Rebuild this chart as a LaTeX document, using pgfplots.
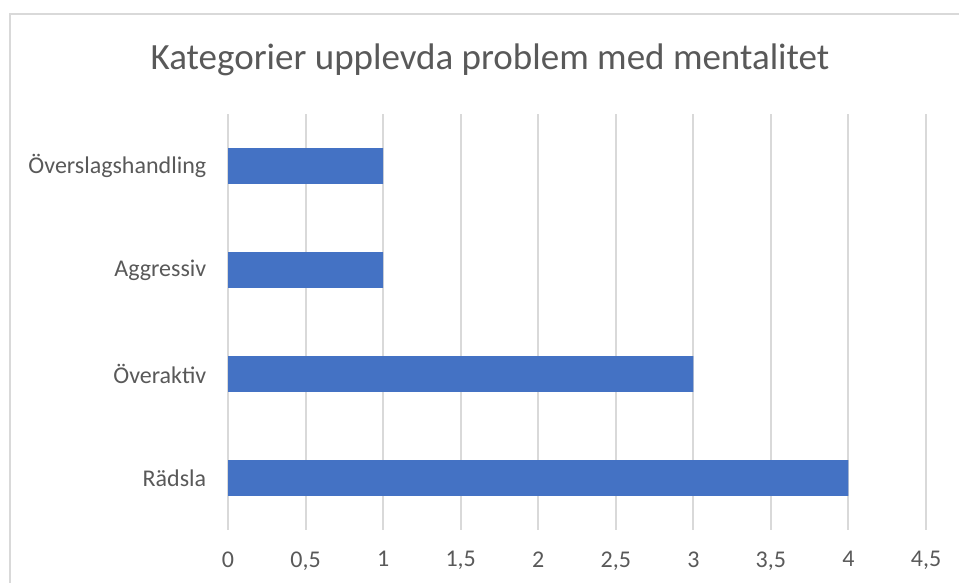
\documentclass[border=0pt]{standalone}
\usepackage{fontspec}
\setmainfont{Carlito}
\usepackage{pgfplots}
\pgfplotsset{compat=1.18}
\definecolor{barblue}{HTML}{4472C4}
\definecolor{gridgray}{HTML}{D9D9D9}
\definecolor{txtgray}{HTML}{595959}
\begin{document}
\begin{tikzpicture}[x=1pt,y=1pt]
\path[use as bounding box] (0,0) rectangle (959,583);
\draw[gridgray, line width=1.8pt] (10,0) -- (10,569) -- (959,569);
\node[anchor=base, text=txtgray, font=\fontsize{37}{40}\selectfont] at (490,513) {Kategorier upplevda problem med mentalitet};
\begin{axis}[
  at={(228pt,53pt)}, anchor=south west,
  scale only axis, width=698pt, height=416pt,
  xbar, bar width=0.346,
  xmin=0, xmax=4.5, ymin=-0.5, ymax=3.5,
  xtick={0,0.5,...,4.5},
  ytick={0,1,2,3},
  yticklabels={Rädsla,Överaktiv,Aggressiv,Överslagshandling},
  xmajorgrids, grid style={gridgray, line width=2pt},
  axis line style={draw=none},
  tick style={draw=none},
  /pgf/number format/assume math mode=true,
  /pgf/number format/use comma,
  ticklabel style={text=txtgray, font=\fontsize{24}{26}\selectfont},
  xticklabel style={yshift=-18pt},
  yticklabel style={xshift=-14pt},
]
\addplot[fill=barblue, draw=none] coordinates {(4,0) (3,1) (1,2) (1,3)};
\end{axis}
\end{tikzpicture}
\end{document}
